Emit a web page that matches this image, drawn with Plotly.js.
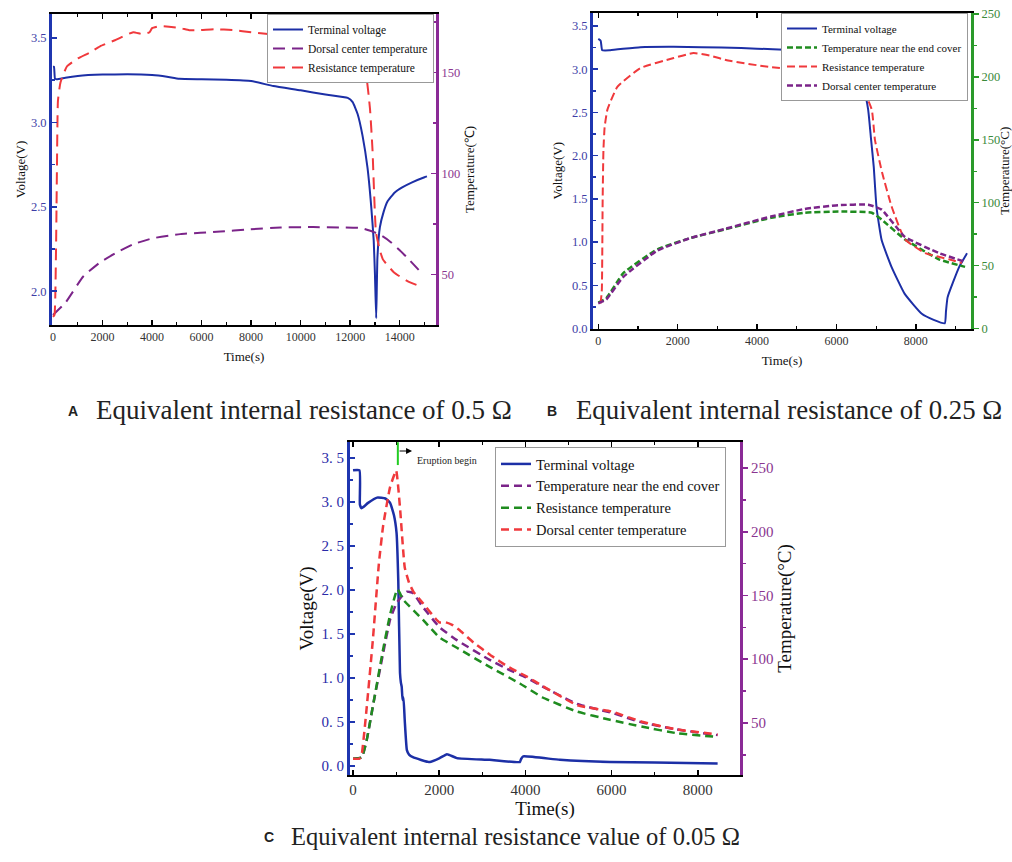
<!DOCTYPE html>
<html>
<head>
<meta charset="utf-8">
<script src="https://cdn.plot.ly/plotly-3.0.1.min.js"></script>
<style>html,body{margin:0;padding:0;background:#fff;}#chart{width:1012px;height:862px;}</style>
</head>
<body>
<div id="chart"></div>
<script>
// ---------------- DATA ----------------
// Panel A (0.5 ohm)
const tA_volt = [0, 40, 80, 150, 500, 1000, 2000, 3000, 4000, 4600, 5100, 6000, 7000, 8000, 8900, 10000, 11000, 11900, 12100, 12300, 12500, 12700, 12850, 12950, 13000, 13050, 13100, 13200, 13350, 13500, 13800, 14100, 14500, 15000, 15100];
const vA_volt = [3.33, 3.33, 3.26, 3.255, 3.265, 3.275, 3.283, 3.285, 3.28, 3.27, 3.258, 3.255, 3.252, 3.245, 3.215, 3.19, 3.165, 3.145, 3.12, 3.05, 2.92, 2.73, 2.5, 2.3, 2.1, 1.84, 2.2, 2.38, 2.47, 2.53, 2.585, 2.615, 2.645, 2.675, 2.68];
const tA_dorsal = [0, 500, 1220, 1900, 2590, 3240, 4050, 5140, 6760, 7850, 9190, 10500, 11620, 12430, 12960, 13300, 13640, 14000, 14330, 14860];
const TA_dorsal = [30, 36, 49, 56, 61, 65, 68, 70, 71.3, 72.3, 73.3, 73.5, 73.3, 73, 71, 69, 66, 62, 58, 51];
const tA_res = [0, 60, 120, 160, 200, 300, 560, 1000, 1500, 1900, 2500, 3240, 3600, 3900, 4000, 4330, 5140, 5500, 5950, 6500, 7300, 8000, 8780, 10000, 11000, 12000, 12400, 12630, 12800, 12900, 13040, 13200, 13320, 13770, 14330, 14860];
const TA_res = [29, 30, 60, 103, 136, 145, 153, 157, 160, 163, 166, 170, 169, 170, 172, 173, 172, 171, 171, 171.5, 171, 170, 169, 167, 165, 162, 157, 150, 132, 112, 71, 62, 57.5, 51, 46.6, 44];

// Panel B (0.25 ohm)
const tB_volt = [0, 60, 100, 300, 1060, 1900, 2600, 3600, 4400, 5200, 5800, 6200, 6550, 6700, 6800, 6870, 6940, 7010, 7140, 7390, 7720, 8150, 8450, 8730, 8760, 8800, 9090, 9290];
const vB_volt = [3.35, 3.33, 3.22, 3.22, 3.255, 3.26, 3.255, 3.245, 3.23, 3.21, 3.18, 3.10, 2.91, 2.75, 2.53, 2.2, 1.87, 1.40, 1.02, 0.71, 0.40, 0.17, 0.10, 0.06, 0.2, 0.36, 0.71, 0.87];
const tB_cover = [0, 200, 630, 1490, 2330, 3170, 4350, 5190, 6050, 6890, 7140, 7720, 8580, 9240];
const TB_cover = [20.6, 24, 44, 63, 72, 78.6, 88, 92, 93, 92, 86.5, 71, 55, 49];
const tB_res = [60, 90, 110, 130, 160, 230, 480, 1060, 1900, 2400, 2800, 3270, 4280, 5190, 6000, 6300, 6630, 6890, 6970, 7150, 7390, 7720, 8230, 8830, 9160];
const TB_res = [20, 31, 102, 142, 160, 174, 192, 207, 215, 219, 217, 213, 208, 205, 200, 196, 192, 174, 150, 124, 97, 71, 60, 55, 52];
const tB_dorsal = [0, 200, 630, 1490, 2330, 3170, 4350, 5190, 6050, 6800, 7140, 7720, 8580, 9240];
const TB_dorsal = [20, 23, 41, 62, 72, 79, 89, 95, 98, 98.4, 94.5, 73, 60, 53];

// Panel C (0.05 ohm)
const tC_volt = [0, 150, 160, 200, 350, 560, 750, 860, 950, 1010, 1050, 1090, 1110, 1130, 1150, 1170, 1200, 1250, 1300, 1390, 1780, 2010, 2180, 2410, 3170, 3870, 3900, 3950, 4800, 5960, 7000, 8460];
const vC_volt = [3.36, 3.36, 2.97, 2.93, 2.99, 3.05, 3.04, 2.99, 2.85, 2.65, 2.11, 1.06, 0.95, 0.9, 0.75, 0.78, 0.52, 0.18, 0.13, 0.10, 0.045, 0.09, 0.135, 0.09, 0.07, 0.045, 0.08, 0.11, 0.07, 0.045, 0.04, 0.03];
const tC_cover = [0, 200, 320, 460, 700, 860, 1010, 1150, 1250, 1390, 1620, 2010, 2410, 3170, 3600, 4000, 4400, 5200, 6000, 6700, 7500, 8460];
const TC_cover = [22, 23, 37, 63, 105, 131, 144, 150, 153, 152, 141, 125, 115, 99.5, 92, 86, 78.5, 65, 58, 50.5, 45, 40.5];
const tC_res = [0, 200, 320, 460, 700, 860, 1030, 1170, 1620, 2010, 2410, 3170, 3870, 4400, 5190, 5960, 6720, 7510, 8460];
const TC_res = [22, 23, 37, 63, 108, 135, 155, 146.5, 131, 117, 109, 94, 81, 70, 59, 52.5, 47, 42, 39];
const tC_dorsal = [0, 150, 200, 320, 460, 600, 700, 860, 1000, 1090, 1200, 1300, 1400, 1620, 2000, 2150, 2300, 2500, 2800, 3200, 3600, 4000, 4400, 5200, 6000, 6700, 7500, 8460];
const TC_dorsal = [22, 22, 25, 63, 115, 175, 205, 235, 248, 219, 172, 160, 153, 144, 129, 129, 127, 122, 113, 103, 94, 87, 79, 64, 59, 51, 45, 41];
const eruptionTime = 1040;

// Tick labels
const voltTicks = [0, 0.5, 1.0, 1.5, 2.0, 2.5, 3.0, 3.5];
const voltTickTextC = ['0.\u00a00', '0.\u00a05', '1.\u00a00', '1.\u00a05', '2.\u00a00', '2.\u00a05', '3.\u00a00', '3.\u00a05'];

// Text
const legendNames = {
  volt: 'Terminal voltage',
  dorsal: 'Dorsal center temperature',
  res: 'Resistance temperature',
  cover: 'Temperature near the end cover'
};
const captions = ['Equivalent internal resistance of 0.5 Ω', 'Equivalent internal resistance of 0.25 Ω', 'Equivalent internal resistance value of 0.05 Ω'];

// ---------------- STYLE ----------------
const W = 1012, H = 862;
const fx = x => x / W, fy = y => 1 - y / H;
const SERIF = 'Liberation Serif, Times New Roman, serif';
const BLUE = '#1c2fa6', PURPLE = '#7b2489', RED = '#f0393c', GREEN = '#1f8c1f';
const AX_BLUE = '#1f36b0', AX_PURPLE = '#8a2a96', AX_GREEN = '#2a9a2a';
const LBL_BLUE = '#3d3da6', LBL_PURPLE = '#8a3590', LBL_GREEN = '#3a8a3a';

function tr(x, y, name, color, dash, width, xa, ya, lg) {
  return {x: x, y: y, name: name, type: 'scatter', mode: 'lines',
    line: {color: color, dash: dash, width: width, shape: 'spline', smoothing: 0.4},
    xaxis: xa, yaxis: ya, legend: lg};
}

const data = [
  tr(tA_volt, vA_volt, legendNames.volt, BLUE, 'solid', 2, 'x', 'y', 'legend'),
  tr(tA_dorsal, TA_dorsal, legendNames.dorsal, PURPLE, '12px,7px', 2, 'x', 'y2', 'legend'),
  tr(tA_res, TA_res, legendNames.res, RED, '12px,7px', 2, 'x', 'y2', 'legend'),

  tr(tB_volt, vB_volt, legendNames.volt, BLUE, 'solid', 2, 'x2', 'y3', 'legend2'),
  tr(tB_cover, TB_cover, legendNames.cover, GREEN, '6px,3px', 2.5, 'x2', 'y4', 'legend2'),
  tr(tB_res, TB_res, legendNames.res, RED, '8px,4px', 2, 'x2', 'y4', 'legend2'),
  tr(tB_dorsal, TB_dorsal, legendNames.dorsal, PURPLE, '6px,3px', 2.5, 'x2', 'y4', 'legend2'),

  tr(tC_volt, vC_volt, legendNames.volt, BLUE, 'solid', 2.5, 'x3', 'y5', 'legend3'),
  tr(tC_cover, TC_cover, legendNames.cover, PURPLE, '8px,5px', 2.5, 'x3', 'y6', 'legend3'),
  tr(tC_res, TC_res, legendNames.res, GREEN, '8px,5px', 2.5, 'x3', 'y6', 'legend3'),
  tr(tC_dorsal, TC_dorsal, legendNames.dorsal, RED, '8px,5px', 2.5, 'x3', 'y6', 'legend3')
];

function xAx(dom, anchor, range, fs, titleSize, standoff) {
  return {domain: dom, anchor: anchor, range: range, tick0: 0, dtick: 2000, tickformat: 'd',
    ticks: 'inside', ticklen: 5, tickwidth: 1.5, tickcolor: '#000',
    minor: {ticks: 'inside', dtick: 1000, ticklen: 3, tickwidth: 1.2, tickcolor: '#000'},
    showline: true, linecolor: '#000', linewidth: 2, mirror: 'ticks',
    showgrid: false, zeroline: false,
    tickfont: {family: SERIF, size: fs, color: '#333'},
    title: {text: 'Time(s)', font: {family: SERIF, size: titleSize, color: '#111'}, standoff: standoff}};
}
function yAx(dom, anchor, range, opts) {
  const o = {domain: dom, anchor: anchor, range: range, showgrid: false, zeroline: false,
    ticks: 'inside', ticklen: 5, tickwidth: 1.5, showline: true, linewidth: 3};
  return Object.assign(o, opts);
}

const layout = {
  width: W, height: H, margin: {l: 0, r: 0, t: 0, b: 0},
  paper_bgcolor: '#fff', plot_bgcolor: '#fff',
  font: {family: SERIF, color: '#111'},
  // Panel A
  xaxis: xAx([fx(52), fx(436)], 'y', [-40, 15465], 12, 13, 8),
  yaxis: yAx([fy(325), fy(14)], 'x', [1.8, 3.642], {
    tick0: 0, dtick: 0.5, tickformat: '.1f', linecolor: AX_BLUE, tickcolor: AX_BLUE,
    minor: {ticks: 'inside', dtick: 0.25, ticklen: 3, tickcolor: AX_BLUE},
    tickfont: {family: SERIF, size: 12.5, color: LBL_BLUE},
    title: {text: 'Voltage(V)', font: {family: SERIF, size: 13, color: '#111'}, standoff: 3}}),
  yaxis2: yAx(undefined, 'x', [25, 179], {
    overlaying: 'y', side: 'right', tick0: 0, dtick: 50, linecolor: AX_PURPLE, tickcolor: AX_PURPLE,
    minor: {ticks: 'inside', dtick: 25, ticklen: 3, tickcolor: AX_PURPLE},
    tickfont: {family: SERIF, size: 12.5, color: LBL_PURPLE},
    title: {text: 'Temperature(℃)', font: {family: SERIF, size: 13, color: '#111'}, standoff: 6}}),
  // Panel B
  xaxis2: xAx([fx(593), fx(971)], 'y3', [-133, 9390], 12, 13, 9),
  yaxis3: yAx([fy(328.5), fy(13)], 'x2', [0, 3.65], {
    tick0: 0, dtick: 0.5, tickformat: '.1f', linecolor: AX_BLUE, tickcolor: AX_BLUE,
    minor: {ticks: 'inside', dtick: 0.25, ticklen: 3, tickcolor: AX_BLUE},
    tickfont: {family: SERIF, size: 12.5, color: LBL_BLUE},
    title: {text: 'Voltage(V)', font: {family: SERIF, size: 13, color: '#111'}, standoff: 7}}),
  yaxis4: yAx(undefined, 'x2', [0, 250.8], {
    overlaying: 'y3', side: 'right', tick0: 0, dtick: 50, linecolor: AX_GREEN, tickcolor: AX_GREEN,
    ticks: 'outside',
    minor: {ticks: 'outside', dtick: 25, ticklen: 3, tickcolor: AX_GREEN},
    tickfont: {family: SERIF, size: 12.5, color: LBL_GREEN},
    title: {text: 'Temperature(°C)', font: {family: SERIF, size: 13, color: '#111'}, standoff: 5}}),
  // Panel C
  xaxis3: xAx([fx(350), fx(740)], 'y5', [-70, 8979], 15, 19, 3),
  yaxis5: yAx([fy(775), fy(442)], 'x3', [-0.102, 3.682], {
    tickvals: voltTicks, ticktext: voltTickTextC, linecolor: AX_BLUE, tickcolor: AX_BLUE,
    minor: {ticks: 'inside', dtick: 0.25, ticklen: 3, tickcolor: AX_BLUE},
    tickfont: {family: SERIF, size: 15, color: '#2a2aa8'},
    title: {text: 'Voltage(V)', font: {family: SERIF, size: 19, color: '#111'}, standoff: 3}}),
  yaxis6: yAx(undefined, 'x3', [9.2, 270.4], {
    overlaying: 'y5', side: 'right', tick0: 0, dtick: 50, linecolor: AX_PURPLE, tickcolor: AX_PURPLE,
    ticks: 'outside',
    minor: {ticks: 'outside', dtick: 25, ticklen: 3, tickcolor: AX_PURPLE},
    tickfont: {family: SERIF, size: 15, color: LBL_PURPLE},
    title: {text: 'Temperature(°C)', font: {family: SERIF, size: 19, color: '#111'}, standoff: 5}}),
  legend: {x: fx(434), y: fy(14), xanchor: 'right', yanchor: 'top', bgcolor: '#fff',
    bordercolor: '#999', borderwidth: 1, font: {family: SERIF, size: 11.5, color: '#111'}, tracegroupgap: 0},
  legend2: {x: fx(968), y: fy(13), xanchor: 'right', yanchor: 'top', bgcolor: '#fff',
    bordercolor: '#999', borderwidth: 1, font: {family: SERIF, size: 11, color: '#111'}, tracegroupgap: 0},
  legend3: {x: fx(495), y: fy(447), xanchor: 'left', yanchor: 'top', bgcolor: '#fff',
    bordercolor: '#999', borderwidth: 1, font: {family: SERIF, size: 14.5, color: '#111'}, tracegroupgap: 0},
  shapes: [
    {type: 'line', xref: 'x3', yref: 'y5', x0: eruptionTime, x1: eruptionTime, y0: 3.42, y1: 3.68,
      line: {color: '#22cc22', width: 2}}
  ],
  annotations: [
    {xref: 'x3', yref: 'y5', x: eruptionTime + 330, y: 3.58, ax: -14, ay: 0, axref: 'pixel', ayref: 'pixel',
      text: '', showarrow: true, arrowhead: 2, arrowsize: 1, arrowwidth: 1.2, arrowcolor: '#000'},
    {xref: 'x3', yref: 'y5', x: eruptionTime + 400, y: 3.47, xanchor: 'left', yanchor: 'middle', showarrow: false,
      text: 'Eruption begin', font: {family: SERIF, size: 10, color: '#222'}},
    {xref: 'paper', yref: 'paper', x: fx(66), y: fy(411), xanchor: 'left', yanchor: 'middle', showarrow: false,
      text: '<b>A</b>', font: {family: 'Liberation Sans, Arial, sans-serif', size: 14, color: '#222'}},
    {xref: 'paper', yref: 'paper', x: fx(94), y: fy(410), xanchor: 'left', yanchor: 'middle', showarrow: false,
      text: captions[0], font: {family: SERIF, size: 27, color: '#222'}},
    {xref: 'paper', yref: 'paper', x: fx(545), y: fy(411), xanchor: 'left', yanchor: 'middle', showarrow: false,
      text: '<b>B</b>', font: {family: 'Liberation Sans, Arial, sans-serif', size: 14, color: '#222'}},
    {xref: 'paper', yref: 'paper', x: fx(574), y: fy(410), xanchor: 'left', yanchor: 'middle', showarrow: false,
      text: captions[1], font: {family: SERIF, size: 26.8, color: '#222'}},
    {xref: 'paper', yref: 'paper', x: fx(262), y: fy(837), xanchor: 'left', yanchor: 'middle', showarrow: false,
      text: '<b>C</b>', font: {family: 'Liberation Sans, Arial, sans-serif', size: 14, color: '#222'}},
    {xref: 'paper', yref: 'paper', x: fx(289), y: fy(836), xanchor: 'left', yanchor: 'middle', showarrow: false,
      text: captions[2], font: {family: SERIF, size: 24.5, color: '#222'}}
  ]
};

Plotly.newPlot('chart', data, layout, {staticPlot: true, displayModeBar: false});
</script>
</body>
</html>
